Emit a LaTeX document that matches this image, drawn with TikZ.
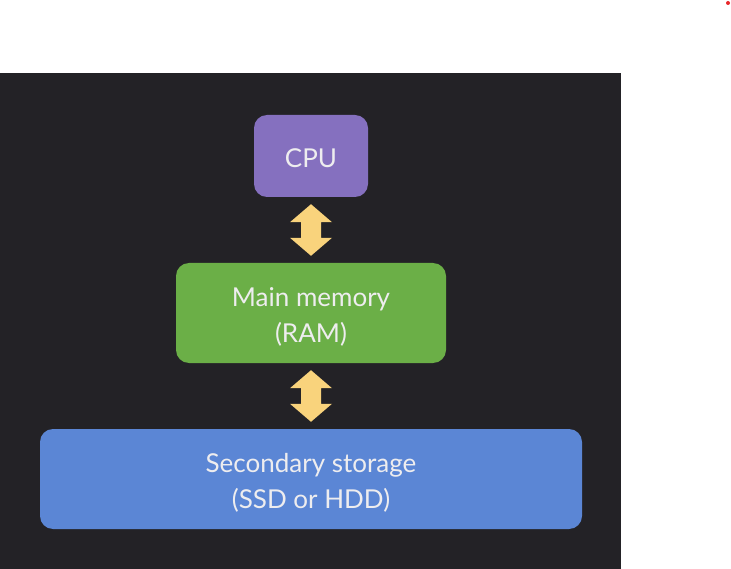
\documentclass[tikz,border=0pt]{standalone}
\usepackage{fontspec}
\setmainfont{Lato}
\usetikzlibrary{calc}
\definecolor{bgdark}{HTML}{232226}
\definecolor{cpuc}{HTML}{8570BF}
\definecolor{ramc}{HTML}{6BAF47}
\definecolor{ssdc}{HTML}{5B86D5}
\definecolor{arrowc}{HTML}{F9D37C}
\definecolor{txtc}{HTML}{EEEDEF}
\definecolor{dotc}{HTML}{E8282B}
\tikzset{
  box/.style={rounded corners=13pt, inner sep=0pt},
  boxtext/.style={text=txtc, align=center, inner sep=0pt,
    font=\fontsize{26}{36}\selectfont},
}
\newcommand\dblarrow[2]{%
  \fill[arrowc] let \p1=($(#1.south)+(0,7)$), \p2=($(#2.north)+(0,-7)$) in
    (\x1,\y1) -- (\x1+21pt,\y1-18pt) -- (\x1+10pt,\y1-18pt) -- (\x1+10pt,\y2+18pt)
    -- (\x1+21pt,\y2+18pt) -- (\x1,\y2) -- (\x1-21pt,\y2+18pt) -- (\x1-10pt,\y2+18pt)
    -- (\x1-10pt,\y1-18pt) -- (\x1-21pt,\y1-18pt) -- cycle;}
\begin{document}
\begin{tikzpicture}[x=1pt,y=-1pt]
\useasboundingbox (0,0) rectangle (731,569);
\fill[white] (0,0) rectangle (731,569);
\fill[bgdark] (0,73) rectangle (621,569);
\fill[dotc] (728,3) circle (2);
\node[box, fill=cpuc, minimum width=114pt, minimum height=82pt,
  label={[boxtext, yshift=-2pt]center:CPU}] (cpu) at (311,156) {};
\node[box, fill=ramc, minimum width=270pt, minimum height=100pt,
  label={[boxtext, yshift=-4pt]center:{\strut Main memory\\(RAM)\strut}}] (ram) at (311,313) {};
\node[box, fill=ssdc, minimum width=542pt, minimum height=100pt,
  label={[boxtext, yshift=-4pt]center:{\strut Secondary storage\\(SSD or HDD)\strut}}] (ssd) at (311,479) {};
\dblarrow{cpu}{ram}
\dblarrow{ram}{ssd}
\end{tikzpicture}
\end{document}
